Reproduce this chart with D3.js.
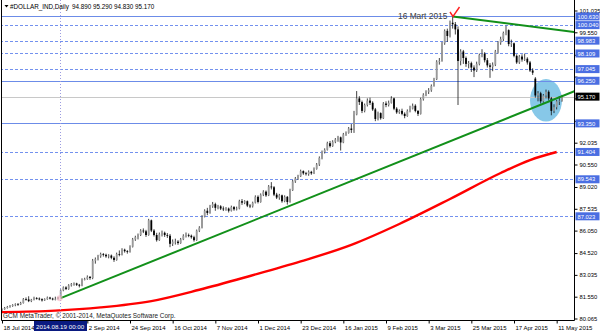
<!DOCTYPE html>
<html>
<head>
<meta charset="utf-8">
<script src="https://cdn.jsdelivr.net/npm/d3@7"></script>
<style>
  body { margin: 0; background: #fff; }
  svg { display: block; font-family: "Liberation Sans", Arial, sans-serif; }
</style>
</head>
<body>
<svg id="chart" width="600" height="333"></svg>
<script>
// daily bars, [open, high, low, close], 18 Jul 2014 .. 12 May 2015
var bars = [
  [80.62,80.75,80.55,80.70],[80.70,80.85,80.66,80.78],[80.78,80.92,80.74,80.85],[80.85,80.98,80.80,80.92],
  [80.92,81.04,80.86,80.98],[80.98,81.10,80.90,81.03],[81.03,81.12,80.94,81.02],[81.02,81.20,80.98,81.12],
  [81.12,81.46,81.08,81.38],[81.38,81.50,81.28,81.36],[81.36,81.58,81.18,81.25],[81.25,81.40,81.18,81.34],
  [81.34,81.55,81.30,81.46],[81.46,81.52,81.35,81.42],[81.42,81.50,81.30,81.38],[81.38,81.44,81.22,81.30],
  [81.30,81.44,81.26,81.38],[81.38,81.56,81.34,81.49],[81.49,81.54,81.36,81.42],[81.42,81.48,81.30,81.36],
  [81.36,81.55,81.30,81.40],[81.40,81.54,81.36,81.48],[81.48,82.05,81.44,81.98],[81.98,82.25,81.92,82.18],
  [82.18,82.26,82.00,82.08],[82.08,82.40,82.02,82.32],[82.32,82.48,82.24,82.40],[82.40,82.52,82.30,82.45],
  [82.45,82.50,82.28,82.36],[82.36,82.42,82.18,82.30],[82.30,82.80,82.26,82.72],[82.72,82.84,82.66,82.76],
  [82.76,83.00,82.70,82.90],[82.90,82.96,82.70,82.82],[82.82,84.12,82.74,84.00],[84.00,84.22,83.80,84.10],
  [84.10,84.40,84.02,84.30],[84.30,84.55,84.20,84.45],[84.45,84.52,84.28,84.40],[84.40,84.48,84.20,84.30],
  [84.30,84.44,84.16,84.35],[84.35,84.42,84.10,84.20],[84.20,84.30,83.92,84.05],[84.05,84.55,84.00,84.45],
  [84.45,84.70,84.30,84.40],[84.40,84.85,84.36,84.75],[84.75,84.82,84.55,84.65],[84.65,84.72,84.48,84.60],
  [84.60,85.05,84.55,84.95],[84.95,85.55,84.90,85.45],[85.45,85.70,85.35,85.60],[85.60,85.85,85.45,85.75],
  [85.75,86.15,85.68,86.05],[86.05,86.20,85.88,86.00],[86.00,86.10,85.62,85.75],[85.75,86.85,85.70,86.75],
  [86.75,86.80,85.95,86.05],[86.05,86.15,85.65,85.75],[85.75,85.90,85.30,85.40],[85.40,85.92,85.35,85.80],
  [85.80,86.05,85.65,85.90],[85.90,85.98,85.62,85.75],[85.75,85.88,85.55,85.70],[85.70,85.82,84.92,85.15],
  [85.15,85.45,85.00,85.30],[85.30,85.50,85.10,85.30],[85.30,85.40,85.08,85.20],[85.20,85.55,85.15,85.45],
  [85.45,85.80,85.40,85.70],[85.70,85.92,85.58,85.75],[85.75,85.85,85.60,85.70],[85.70,85.78,85.50,85.60],
  [85.60,85.70,85.30,85.40],[85.40,86.12,85.35,86.05],[86.05,86.35,85.95,86.25],[86.25,87.10,86.20,87.00],
  [87.00,87.50,86.95,87.40],[87.40,87.60,87.10,87.25],[87.25,87.80,87.20,87.70],[87.70,88.00,87.60,87.85],
  [87.85,87.95,87.40,87.60],[87.60,87.80,87.50,87.70],[87.70,87.78,87.45,87.55],[87.55,87.70,87.38,87.50],
  [87.50,87.65,87.40,87.55],[87.55,87.62,87.28,87.40],[87.40,87.75,87.35,87.65],[87.65,87.72,87.40,87.50],
  [87.50,87.68,87.42,87.55],[87.55,88.15,87.50,88.05],[88.05,88.20,87.80,87.95],[87.95,88.12,87.85,88.05],
  [88.05,88.10,87.65,87.75],[87.75,87.85,87.58,87.70],[87.70,88.02,87.62,87.95],[87.95,88.45,87.90,88.35],
  [88.35,88.45,87.90,88.00],[88.00,88.58,87.95,88.50],[88.50,88.80,88.40,88.70],[88.70,88.78,88.35,88.45],
  [88.45,89.15,88.40,89.05],[89.05,89.35,88.85,89.00],[89.00,89.08,88.40,88.50],[88.50,88.62,88.20,88.30],
  [88.30,88.55,88.15,88.45],[88.45,88.50,87.95,88.05],[88.05,88.45,87.98,88.35],[88.35,88.40,87.82,88.00],
  [88.00,88.90,87.95,88.80],[88.80,89.50,88.75,89.40],[89.40,89.70,89.30,89.60],[89.60,89.85,89.50,89.75],
  [89.75,90.20,89.70,90.10],[90.10,90.15,89.85,89.95],[89.95,90.05,89.80,89.90],[89.90,90.15,89.78,90.05],
  [90.05,90.12,89.85,89.95],[89.95,90.35,89.90,90.25],[90.25,90.65,90.20,90.55],[90.55,91.10,90.45,91.00],
  [91.00,91.50,90.90,91.40],[91.40,91.65,91.30,91.55],[91.55,92.10,91.50,92.00],[92.00,92.15,91.70,91.80],
  [91.80,92.20,91.75,92.10],[92.10,92.35,92.00,92.25],[92.25,92.50,92.10,92.40],[92.40,92.45,91.50,92.05],
  [92.05,92.70,92.00,92.60],[92.60,92.80,92.50,92.70],[92.70,93.10,92.65,93.00],[93.00,93.30,92.70,92.90],
  [92.90,94.20,92.70,93.95],[93.95,95.55,93.90,95.05],[95.05,95.20,94.60,94.80],[94.80,94.90,94.05,94.20],
  [94.20,94.70,94.10,94.60],[94.60,95.05,94.50,94.90],[94.90,95.10,94.60,94.75],[94.75,94.85,94.20,94.30],
  [94.30,94.40,93.50,93.65],[93.65,94.15,93.55,94.05],[94.05,94.10,93.60,93.70],[93.70,94.80,93.65,94.70],
  [94.70,94.85,94.45,94.60],[94.60,94.90,94.50,94.75],[94.75,95.20,94.70,95.05],[95.05,95.10,94.25,94.35],
  [94.35,94.45,94.00,94.10],[94.10,94.30,94.00,94.20],[94.20,94.35,93.90,94.00],[94.00,94.10,93.70,93.85],
  [93.85,94.30,93.80,94.20],[94.20,94.55,94.10,94.35],[94.35,94.70,94.30,94.55],[94.55,94.65,94.10,94.20],
  [94.20,94.25,93.85,94.00],[94.00,95.10,93.95,95.00],[95.00,95.40,94.90,95.30],[95.30,95.60,95.20,95.50],
  [95.50,95.75,95.35,95.60],[95.60,96.00,95.50,95.90],[95.90,96.45,95.85,96.35],[96.35,97.65,96.30,97.55],
  [97.55,97.80,97.35,97.60],[97.60,98.90,97.55,98.80],[98.80,99.75,98.70,99.65],[99.65,99.80,98.90,99.30],
  [99.30,100.35,99.20,100.20],[100.20,100.63,99.80,100.10],[100.10,100.25,99.40,99.75],[99.75,99.95,94.60,97.60],
  [97.60,98.40,97.30,98.25],[98.25,98.35,97.40,97.80],[97.80,97.90,97.20,97.40],[97.40,97.60,97.10,97.45],
  [97.45,97.55,96.85,97.15],[97.15,97.30,96.50,96.95],[96.95,97.55,96.85,97.40],[97.40,98.10,97.30,98.00],
  [98.00,98.40,97.85,98.10],[98.10,98.20,97.50,97.65],[97.65,97.80,97.15,97.30],[97.30,97.45,96.45,97.20],
  [97.20,97.50,96.90,97.35],[97.35,98.35,97.25,98.25],[98.25,98.95,98.10,98.85],[98.85,99.25,98.70,99.10],
  [99.10,99.60,98.95,99.50],[99.50,100.00,99.35,99.70],[99.70,99.75,98.60,98.75],[98.75,99.05,98.55,98.80],
  [98.80,98.85,97.85,97.95],[97.95,98.05,97.40,97.50],[97.50,98.00,97.40,97.90],[97.90,98.05,97.55,97.70],
  [97.70,98.10,97.60,97.75],[97.75,97.85,97.35,97.50],[97.50,97.60,96.85,96.95],[96.95,97.10,96.65,96.80],
  [96.40,96.50,95.10,95.25],[95.25,95.55,94.85,95.40],[95.40,95.50,94.70,94.85],[94.85,95.35,94.75,95.25],
  [95.25,95.65,95.05,95.50],[95.50,95.60,94.90,95.05],[95.05,95.15,93.90,94.20],[94.20,94.65,94.05,94.45],
  [94.45,94.95,94.30,94.85],[94.85,95.20,94.60,94.89],[94.89,95.29,94.83,95.17]
];

// date labels every 16 bars (the second one sits under the crosshair date box)
var tickLabels = ["18 Jul 2014","11 Aug 2014","2 Sep 2014","24 Sep 2014","16 Oct 2014","7 Nov 2014",
  "1 Dec 2014","23 Dec 2014","16 Jan 2015","9 Feb 2015","3 Mar 2015","25 Mar 2015","17 Apr 2015","11 May 2015"];
var tickBars = [0,16,32,48,64,80,96,112,128,144,160,176,192,208];

var priceTicks = [80.065,81.550,83.035,84.520,86.050,87.535,89.020,90.550,92.035,93.520,95.050,96.535,98.020,99.550,101.035];

// horizontal levels
var solidLevels = [100.630, 96.250, 93.350];
var dashedLevels = [100.040, 98.983, 98.109, 97.045, 91.404, 89.543, 87.023];
var lastPrice = 95.170;

// moving average (red), read at a few bars
var maBars = [0, 20, 37, 56, 74, 93, 112, 131, 149, 168, 187, 198, 208];
var maValues = [80.50, 80.60, 80.82, 81.25, 82.02, 82.96, 83.95, 85.08, 86.50, 88.20, 89.97, 90.85, 91.40];

// trend lines, two anchors each [bar, price], drawn as rays to the right
var supportLine = [[22, 81.45], [206, 94.91]];
var resistLine = [[169, 100.63], [210, 99.68]];

// ellipse marker: center bar, center price, half width in bars, half height in price
var ellipse = {bar: 204, price: 94.92, rb: 6, rp: 1.45};

var crossBar = 22;

var svg = d3.select("#chart");
var plotR = 574, plotB = 320;

var x = d3.scaleLinear().domain([0, 210]).range([2, 562]);
var y = d3.scaleLinear().domain([80.065, 101.035]).range([318.5, 10.5]);

svg.append("rect").attr("width", 600).attr("height", 333).attr("fill", "#fff");

svg.append("clipPath").attr("id", "plot")
  .append("rect").attr("x", 1.5).attr("y", 0).attr("width", plotR - 1.5).attr("height", plotB);

var g = svg.append("g").attr("clip-path", "url(#plot)");

// ellipse behind everything
g.append("ellipse")
  .attr("cx", x(ellipse.bar)).attr("cy", y(ellipse.price))
  .attr("rx", x(ellipse.rb) - x(0)).attr("ry", y(ellipse.price - ellipse.rp) - y(ellipse.price))
  .attr("fill", "#87c8e8");

// levels
g.selectAll(".solid").data(solidLevels).enter().append("line")
  .attr("x1", 0).attr("x2", plotR)
  .attr("y1", function(d) { return Math.round(y(d)) + 0.5; })
  .attr("y2", function(d) { return Math.round(y(d)) + 0.5; })
  .attr("stroke", "#6c8ce8").attr("stroke-width", 1);
g.selectAll(".dashed").data(dashedLevels).enter().append("line")
  .attr("x1", 0).attr("x2", plotR)
  .attr("y1", function(d) { return Math.round(y(d)) + 0.5; })
  .attr("y2", function(d) { return Math.round(y(d)) + 0.5; })
  .attr("stroke", "#7391ee").attr("stroke-width", 1).attr("stroke-dasharray", "3,2");
g.append("line")
  .attr("x1", 0).attr("x2", plotR)
  .attr("y1", Math.round(y(lastPrice)) + 0.5).attr("y2", Math.round(y(lastPrice)) + 0.5)
  .attr("stroke", "#c8c8c8");

// crosshair vertical
svg.append("line")
  .attr("x1", Math.round(x(crossBar)) - 0.5).attr("x2", Math.round(x(crossBar)) - 0.5)
  .attr("y1", 0).attr("y2", plotB)
  .attr("stroke", "#9c9ce0").attr("stroke-dasharray", "1,2");

// candles
var candle = g.selectAll(".c").data(bars).enter().append("g");
candle.append("line")
  .attr("x1", function(d, i) { return x(i); }).attr("x2", function(d, i) { return x(i); })
  .attr("y1", function(d) { return y(d[1]); }).attr("y2", function(d) { return y(d[2]); })
  .attr("stroke", "#111").attr("stroke-width", 0.8);
candle.append("rect")
  .attr("x", function(d, i) { return x(i) - 0.9; })
  .attr("width", 1.8)
  .attr("y", function(d) { return y(Math.max(d[0], d[3])); })
  .attr("height", function(d) { return Math.max(0.8, Math.abs(y(d[0]) - y(d[3]))); })
  .attr("fill", function(d) { return d[3] >= d[0] ? "#9a9a9a" : "#000"; });

// moving average
var maPts = maBars.map(function(b, i) { return [b, maValues[i]]; });
g.append("path")
  .attr("d", d3.line().x(function(d) { return x(d[0]); }).y(function(d) { return y(d[1]); })
    .curve(d3.curveMonotoneX)(maPts))
  .attr("fill", "none").attr("stroke", "#ff0000").attr("stroke-width", 2.4);

// trend rays
function ray(pts) {
  var slope = (pts[1][1] - pts[0][1]) / (pts[1][0] - pts[0][0]);
  var endBar = x.invert(plotR + 5);
  return [pts[0], [endBar, pts[0][1] + slope * (endBar - pts[0][0])]];
}
[supportLine, resistLine].forEach(function(p) {
  var r = ray(p);
  g.append("line")
    .attr("x1", x(r[0][0])).attr("y1", y(r[0][1]))
    .attr("x2", x(r[1][0])).attr("y2", y(r[1][1]))
    .attr("stroke", "#12901a").attr("stroke-width", 2);
});

// anchor dot at crosshair
svg.append("circle").attr("cx", x(supportLine[0][0]) - 1).attr("cy", y(supportLine[0][1]))
  .attr("r", 3).attr("fill", "#f5b8c4").attr("opacity", 0.6);

// annotation
svg.append("text").attr("x", 398).attr("y", 18.5).attr("font-size", "8.4px").attr("fill", "#404040")
  .text("16 Mart 2015");
svg.append("path").attr("d", "M450,12 L453,16.5 L459.5,7")
  .attr("fill", "none").attr("stroke", "#ff2020").attr("stroke-width", 1.4);

// frame
svg.append("path").attr("d", "M1.5,0 V" + (plotB + 0.5) + " H" + (plotR + 0.5) + " V0")
  .attr("fill", "none").attr("stroke", "#000");

// price labels hidden by the level boxes are not written
var boxLevels = solidLevels.concat(dashedLevels).concat([lastPrice]);
function covered(v) {
  return boxLevels.some(function(b) { return Math.abs(y(b) - y(v)) < 5; });
}

// right axis
var yAxis = svg.append("g").attr("transform", "translate(" + (plotR + 0.5) + ",0)")
  .call(d3.axisRight(y).tickValues(priceTicks).tickSize(3).tickPadding(2)
    .tickFormat(function(d) { return covered(d) ? "" : d.toFixed(3); }));
yAxis.select(".domain").remove();
yAxis.selectAll("text").attr("font-size", "5.8px").attr("font-family", "Liberation Sans, Arial").attr("fill", "#000");
yAxis.selectAll("line").attr("stroke", "#000");

// bottom axis
var cx = Math.round(x(crossBar));
var xAxis = svg.append("g").attr("transform", "translate(0," + (plotB + 0.5) + ")")
  .call(d3.axisBottom(x).tickValues(tickBars).tickSize(3).tickPadding(2)
    .tickFormat(function(d, i) { return Math.abs(x(d) - cx) < 20 ? "" : tickLabels[i]; }));
xAxis.select(".domain").remove();
xAxis.selectAll("text").attr("text-anchor", "start").attr("x", 1)
  .attr("font-size", "6px").attr("font-family", "Liberation Sans, Arial").attr("fill", "#000");
xAxis.selectAll("line").attr("stroke", "#000");

// price boxes
var boxes = svg.selectAll(".box").data(solidLevels.concat(dashedLevels)).enter().append("g");
boxes.append("rect").attr("x", plotR + 1.5).attr("width", 24)
  .attr("y", function(d) { return y(d) - 4; }).attr("height", 8).attr("fill", "#4a6ee2");
boxes.append("text").attr("x", plotR + 3.5).attr("y", function(d) { return y(d) + 2.2; })
  .attr("font-size", "5.8px").attr("fill", "#fff").text(function(d) { return d.toFixed(3); });
svg.append("rect").attr("x", plotR + 1.5).attr("width", 24).attr("y", y(lastPrice) - 4).attr("height", 8).attr("fill", "#000");
svg.append("text").attr("x", plotR + 3.5).attr("y", y(lastPrice) + 2.2)
  .attr("font-size", "5.8px").attr("fill", "#fff").text(lastPrice.toFixed(3));

// crosshair date box
svg.append("rect").attr("x", cx - 27).attr("y", plotB + 1).attr("width", 53).attr("height", 10).attr("fill", "#0a1a80");
svg.append("text").attr("x", cx - 25).attr("y", plotB + 8.6).attr("font-size", "6.2px").attr("fill", "#fff")
  .text("2014.08.19 00:00");

// title and copyright
svg.append("path").attr("d", "M4.5,5 H8.5 L6.5,7.5 Z").attr("fill", "#000");
svg.append("text").attr("x", 10).attr("y", 8.6).attr("font-size", "6.3px").attr("fill", "#000")
  .text("#DOLLAR_IND,Daily");
svg.append("text").attr("x", 72).attr("y", 8.6).attr("font-size", "6.3px").attr("fill", "#000")
  .text("94.890 95.290 94.830 95.170");
svg.append("text").attr("x", 3).attr("y", 317.5).attr("font-size", "6.4px").attr("fill", "#222")
  .text("GCM MetaTrader, \u00a9 2001-2014, MetaQuotes Software Corp.");
</script>
</body>
</html>
